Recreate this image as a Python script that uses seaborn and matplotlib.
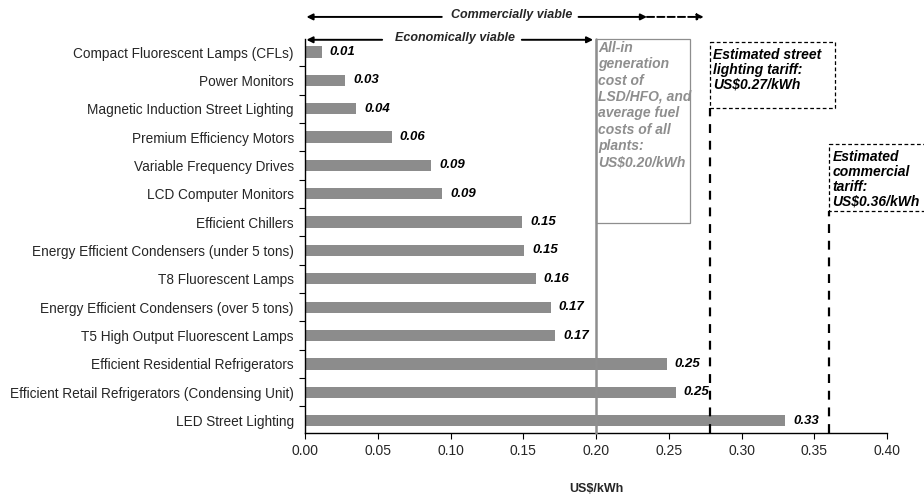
import matplotlib
matplotlib.use("Agg")
import matplotlib.pyplot as plt
from matplotlib.patches import Rectangle
import seaborn as sns
import pandas as pd

# Levelised cost of saved energy by measure (US$/kWh)
measures = [
    "Compact Fluorescent Lamps (CFLs)",
    "Power Monitors",
    "Magnetic Induction Street Lighting",
    "Premium Efficiency Motors",
    "Variable Frequency Drives",
    "LCD Computer Monitors",
    "Efficient Chillers",
    "Energy Efficient Condensers (under 5 tons)",
    "T8 Fluorescent Lamps",
    "Energy Efficient Condensers (over 5 tons)",
    "T5 High Output Fluorescent Lamps",
    "Efficient Residential Refrigerators",
    "Efficient Retail Refrigerators (Condensing Unit)",
    "LED Street Lighting",
]
cost = [0.0115, 0.0278, 0.0352, 0.0596, 0.0866, 0.0942, 0.1494,
        0.1508, 0.1586, 0.169, 0.1718, 0.2486, 0.2548, 0.33]

# Reference cost levels
generation_cost = 0.20
street_tariff = 0.278
commercial_tariff = 0.36
x_ticks = [0.00, 0.05, 0.10, 0.15, 0.20, 0.25, 0.30, 0.35, 0.40]

df = pd.DataFrame({"measure": measures, "cost": cost})

sns.set_theme(style="white")
plt.rcParams["font.family"] = ["Liberation Sans", "DejaVu Sans"]

fig = plt.figure(figsize=(9.24, 4.95), dpi=100)
ax = fig.add_axes([0.3301, 0.1246, 0.6299, 0.7966])

sns.barplot(data=df, x="cost", y="measure", orient="h", color="#8c8c8c",
            saturation=1, width=0.4, edgecolor="none", ax=ax)

ax.set_xlim(0, 0.40)
ax.set_ylim(13.45, -0.46)
ax.set_xticks(x_ticks)
ax.set_xticklabels([f"{t:.2f}" for t in x_ticks], fontsize=10)
ax.set_yticks(range(len(measures)))
ax.set_yticklabels(measures, fontsize=9.8)
ax.set_yticks([i + 0.5 for i in range(len(measures) - 1)], minor=True)
ax.tick_params(axis="y", which="major", length=0, pad=8)
ax.tick_params(axis="y", which="minor", length=4, width=0.8, left=True,
               direction="out", color="black")
ax.tick_params(axis="x", length=4, width=0.8, bottom=True, direction="out",
               color="black", pad=4)
ax.set_ylabel("")
ax.set_xlabel("US$/kWh", fontsize=9, fontweight="bold", labelpad=18)
for side in ["top", "right"]:
    ax.spines[side].set_visible(False)
for side in ["left", "bottom"]:
    ax.spines[side].set_color("black")
    ax.spines[side].set_linewidth(1.0)

# Value labels at the bar ends
for i, v in enumerate(cost):
    ax.text(v + 0.0055, i, f"{v:.2f}", va="center", ha="left",
            fontsize=9.5, fontweight="bold", fontstyle="italic", color="black")

# Generation cost line and its annotation box
gray = "#8e8e8e"
ax.plot([generation_cost, generation_cost], [13.45, -0.45], color=gray,
        lw=1.8, zorder=3, clip_on=False)
ax.add_patch(Rectangle((generation_cost, -0.45), 0.2646 - generation_cost,
                       6.03 + 0.45, fill=False, edgecolor=gray, lw=0.9,
                       clip_on=False, zorder=3))
ax.text(0.2017, -0.40,
        "All-in\ngeneration\ncost of\nLSD/HFO, and\naverage fuel\ncosts of all\nplants:\nUS$0.20/kWh",
        ha="left", va="top", fontsize=10, fontweight="bold", fontstyle="italic",
        color=gray, linespacing=1.22, clip_on=False)

# Street lighting tariff
ax.plot([street_tariff, street_tariff], [13.45, 1.963], color="black",
        lw=1.6, ls=(0, (4, 3.5)), zorder=3, clip_on=False)
ax.add_patch(Rectangle((street_tariff, -0.363), 0.3643 - street_tariff,
                       1.963 + 0.363, fill=False, edgecolor="black", lw=0.9,
                       ls=(0, (3, 2)), clip_on=False, zorder=3))
ax.text(street_tariff + 0.0025, -0.13,
        "Estimated street\nlighting tariff:\nUS$0.27/kWh",
        ha="left", va="top", fontsize=10, fontweight="bold", fontstyle="italic",
        color="black", linespacing=1.05, clip_on=False)

# Commercial tariff
ax.plot([commercial_tariff, commercial_tariff], [13.45, 5.606], color="black",
        lw=1.6, ls=(0, (4, 3.5)), zorder=3, clip_on=False)
ax.add_patch(Rectangle((commercial_tariff, 3.244), 0.43 - commercial_tariff,
                       5.606 - 3.244, fill=False, edgecolor="black", lw=0.9,
                       ls=(0, (3, 2)), clip_on=False, zorder=3))
ax.text(commercial_tariff + 0.0025, 3.46,
        "Estimated\ncommercial\ntariff:\nUS$0.36/kWh",
        ha="left", va="top", fontsize=10, fontweight="bold", fontstyle="italic",
        color="black", linespacing=1.07, clip_on=False)

# Viability ranges above the plot
trans = ax.get_xaxis_transform()
arrow_kw = dict(arrowstyle="-|>", color="black", lw=1.4, mutation_scale=9,
                shrinkA=0, shrinkB=0)


def range_arrow(x0, x1, y, ls="-"):
    ax.annotate("", xy=(x1, y), xytext=(x0, y), xycoords=trans,
                textcoords=trans, annotation_clip=False,
                arrowprops=dict(arrow_kw, linestyle=ls))


y_comm = 1.056
range_arrow(0.094, 0.001, y_comm)
range_arrow(0.188, 0.235, y_comm)
range_arrow(0.235, 0.274, y_comm, ls="--")
ax.text(0.1420, y_comm + 0.006, "Commercially viable", transform=trans,
        ha="center", va="center", fontsize=9, fontweight="bold",
        fontstyle="italic")

y_econ = 0.998
range_arrow(0.053, 0.001, y_econ)
range_arrow(0.149, 0.198, y_econ)
ax.text(0.1028, y_econ + 0.004, "Economically viable", transform=trans,
        ha="center", va="center", fontsize=9, fontweight="bold",
        fontstyle="italic")

fig.savefig("out.png", dpi=100)
